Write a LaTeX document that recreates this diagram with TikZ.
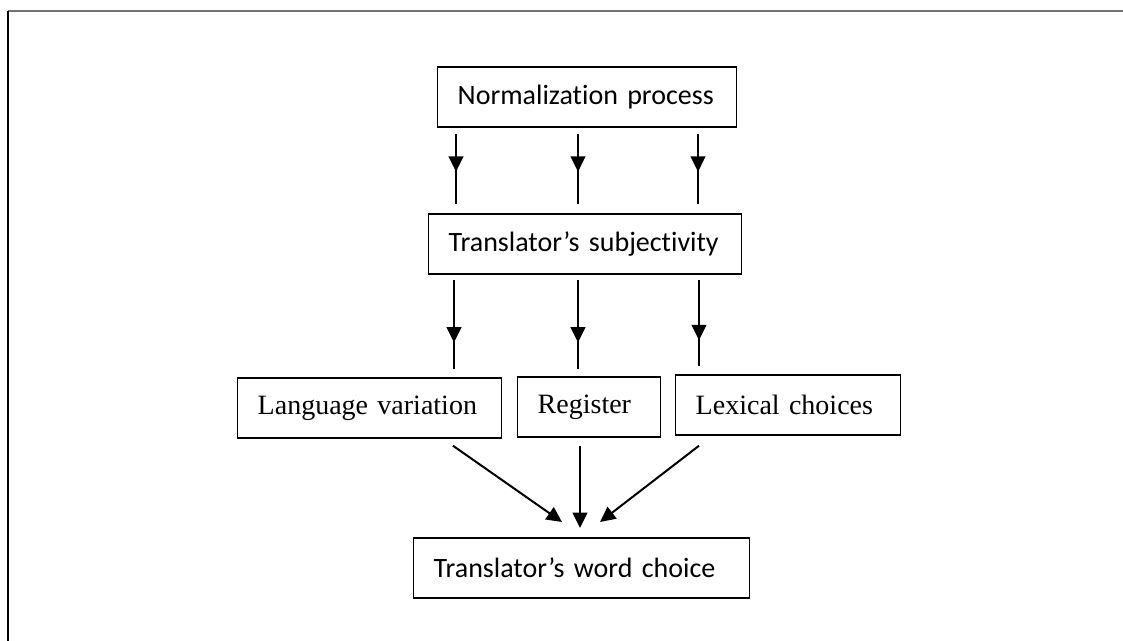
\documentclass[tikz,border=0pt]{standalone}
\usepackage{fontspec}
\setmainfont{Liberation Serif}
\newfontfamily\calib[Ligatures=NoCommon]{Carlito}
\usetikzlibrary{arrows.meta,decorations.markings}
\begin{document}
\begin{tikzpicture}[x=0.75pt,y=-0.75pt,
  box/.style={draw, line width=1.1pt, minimum height=45pt, inner xsep=15pt, inner ysep=0pt,
    align=left, anchor=west},
  sansbox/.style={box, font=\calib\fontsize{21}{25}\selectfont},
  serifbox/.style={box, font=\fontsize{21}{25}\selectfont},
  midflow/.style={line width=1.5pt, postaction={decorate},
    decoration={markings, mark=at position #1 with {\arrow{Triangle[length=11.5pt,width=11pt]}}}},
  flow/.style={line width=1.5pt, -{Triangle[length=11.5pt,width=11pt]}}
]
\useasboundingbox (0,0) rectangle (1123,641);

% page frame
\draw[line width=1.5pt, black!55] (8,11) -- (1123,11);
\draw[line width=1.3pt] (8,11) -- (8,641);

% boxes
\node[sansbox, text width=194.25pt] (norm) at (437,97) {\mbox{Normalization process}};
\node[sansbox, text width=204.75pt] (subj) at (428,244) {\mbox{Translator’s subjectivity}};
\node[serifbox, text width=168pt] (lang) at (237,408) {\mbox{Language variation}};
\node[serifbox, text width=77.25pt] (reg) at (517,407) {\mbox{Register}};
\node[serifbox, text width=138.75pt] (lex) at (675,405) {\mbox{Lexical choices}};
\node[sansbox, text width=222pt] (word) at (413,568) {\mbox{Translator’s word choice}};

% columns of the vertical connectors
\coordinate (a1) at (456,0);
\coordinate (a2) at (578,0);
\coordinate (a3) at (698,0);
\coordinate (b1) at (454,0);
\coordinate (b2) at (578,0);
\coordinate (b3) at (699,0);
\coordinate (c1) at (453,0);
\coordinate (c2) at (580,0);
\coordinate (c3) at (699,0);
% arrow tips above the last box
\coordinate (t1) at (562,522);
\coordinate (t2) at (580,528);
\coordinate (t3) at (600,522);

% normalization -> subjectivity
\foreach \c in {a1,a2,a3}
  \draw[midflow=0.54] ([yshift=-4.5pt]norm.south -| \c) -- ([yshift=6.75pt]subj.north -| \c);

% subjectivity -> three aspects
\draw[midflow=0.70] ([yshift=-3.75pt]subj.south -| b1) -- ([yshift=6pt]lang.north -| b1);
\draw[midflow=0.70] ([yshift=-3.75pt]subj.south -| b2) -- ([yshift=5.25pt]reg.north -| b2);
\draw[midflow=0.70] ([yshift=-3.75pt]subj.south -| b3) -- ([yshift=6pt]lex.north -| b3);

% three aspects -> word choice
\draw[flow] ([yshift=-5.25pt]lang.south -| c1) -- (t1);
\draw[flow] ([yshift=-6pt]reg.south -| c2) -- (t2);
\draw[flow] ([yshift=-7.5pt]lex.south -| c3) -- (t3);
\end{tikzpicture}
\end{document}
